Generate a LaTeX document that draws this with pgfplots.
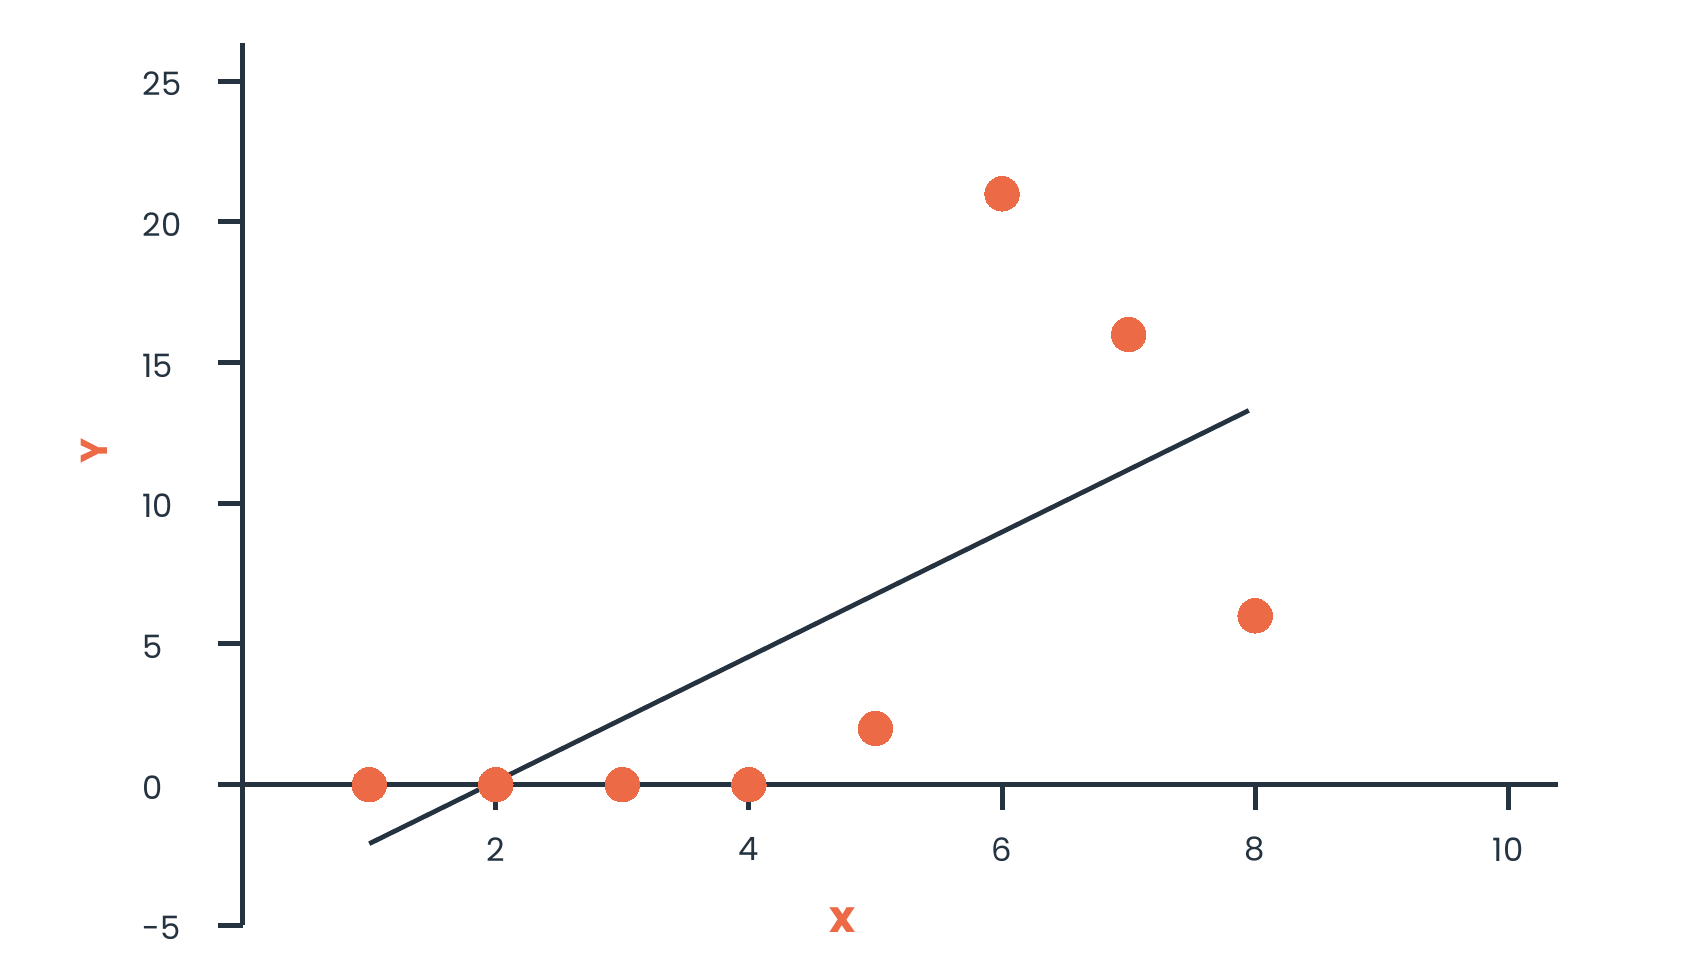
\documentclass[border=0pt]{standalone}
\usepackage{fontspec}
\setmainfont{Poppins}
\usepackage{pgfplots}
\pgfplotsset{compat=1.18}
\definecolor{navy}{HTML}{253340}
\definecolor{orng}{HTML}{EC6A45}
\begin{document}
\begin{tikzpicture}
\path[use as bounding box] (-87.4pt,-16.7pt) rectangle (525.5pt,333.2pt);
\begin{axis}[
  at={(0,0)}, anchor=south west,
  scale only axis, width=473.5pt, height=317.7pt,
  xmin=0, xmax=10.39, ymin=-5, ymax=26.36,
  axis x line=middle, axis y line=left,
  axis line style={navy, line width=1.8pt, -},
  every tick/.style={navy, line width=1.8pt},
  xtick={2,4,6,8,10}, ytick={-5,0,5,10,15,20,25},
  xticklabels={2,4,6,8,10}, yticklabels={-5,0,5,10,15,20,25},
  xtick align=outside, ytick align=outside,
  major tick length=9pt,
  xticklabel style={anchor=center, yshift=-14.3pt},
  yticklabel style={anchor=west, xshift=-30.6pt, yshift=-1pt},
  ticklabel style={font=\fontsize{11.6}{13}\selectfont, text=navy},
  clip=false,
  xlabel={\textbf{x}},
  ylabel={\textbf{Y}},
  xlabel style={at={(axis description cs:0.456,0.006)}, anchor=center, font=\fontsize{16}{18}\selectfont, text=orng},
  ylabel style={at={(axis description cs:0,0.538)}, yshift=53.4pt, anchor=center, font=\fontsize{13.5}{15}\selectfont, text=orng},
]
\addplot[navy, line width=1.7pt, line cap=butt] coordinates {(1,-2.1) (7.95,13.3)};
\addplot[orng, only marks, mark=*, mark size=6.2pt, mark options={fill=orng, draw=orng, line width=0pt}] coordinates {
(1,0) (2,0) (3,0) (4,0) (5,2) (6,21) (7,16) (8,6)};
\end{axis}
\end{tikzpicture}
\end{document}
